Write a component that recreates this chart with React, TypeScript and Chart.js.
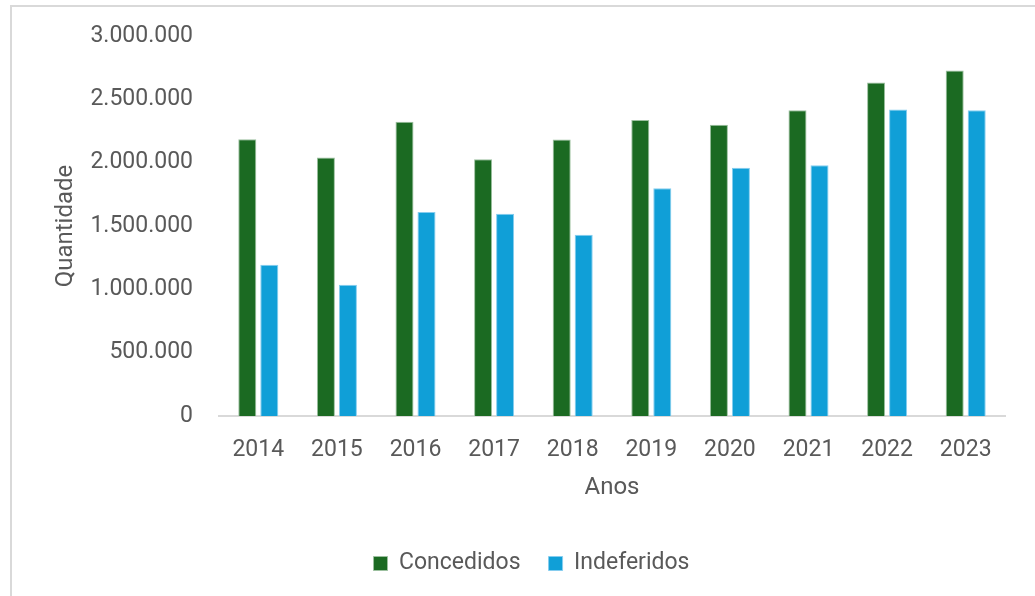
import React, { useEffect, useRef } from "react";
import { Chart, registerables } from "chart.js";

Chart.register(...registerables);

const categories = ["2014", "2015", "2016", "2017", "2018", "2019", "2020", "2021", "2022", "2023"];
const concedidos = [2184000, 2040000, 2324000, 2026000, 2182000, 2337000, 2300000, 2413000, 2632000, 2727000];
const indeferidos = [1194000, 1036000, 1610000, 1597000, 1431000, 1799000, 1960000, 1979000, 2419000, 2413000];
const seriesNames = ["Concedidos", "Indeferidos"];
const xTitle = "Anos";
const yTitle = "Quantidade";

const TEXT = "#595959";
const FONT = "Roboto, 'Noto Sans', sans-serif";

function fmt(v: number): string {
  return String(Math.round(v)).replace(/\B(?=(\d{3})+(?!\d))/g, ".");
}

export default function App() {
  const ref = useRef<HTMLCanvasElement | null>(null);

  useEffect(() => {
    document.body.style.overflow = "hidden";
    const ctx = ref.current!;
    const chart = new Chart(ctx, {
      type: "bar",
      data: {
        labels: categories,
        datasets: [
          {
            label: seriesNames[0],
            data: concedidos,
            backgroundColor: "#1b6a22",
            borderColor: "#9cc09f",
            borderWidth: 1,
            barPercentage: 0.82,
            categoryPercentage: 0.56,
          },
          {
            label: seriesNames[1],
            data: indeferidos,
            backgroundColor: "#109fd7",
            borderColor: "#86cdef",
            borderWidth: 1,
            barPercentage: 0.82,
            categoryPercentage: 0.56,
          },
        ],
      },
      options: {
        responsive: false,
        animation: false,
        layout: { padding: { left: 58, right: 30, top: 36, bottom: 11 } },
        plugins: {
          tooltip: { enabled: false },
          legend: {
            position: "bottom",
            labels: {
              color: TEXT,
              font: { family: FONT, size: 23 },
              boxWidth: 14,
              boxHeight: 14,
              padding: 28,
            },
          },
        },
        scales: {
          x: {
            grid: { display: false, drawTicks: false },
            border: { display: true, color: "#d9d9d9", width: 2 },
            ticks: { color: TEXT, font: { family: FONT, size: 23 }, padding: 20 },
            title: {
              display: true,
              text: xTitle,
              color: TEXT,
              font: { family: FONT, size: 24 },
              padding: { top: 10, bottom: 22 },
            },
            afterFit: (s: any) => {
              s.height = 108;
            },
          },
          y: {
            min: 0,
            max: 3000000,
            grid: { display: false, drawTicks: false },
            border: { display: false },
            ticks: {
              stepSize: 500000,
              color: TEXT,
              font: { family: FONT, size: 23 },
              padding: 26,
              callback: (v: any) => fmt(Number(v)),
            },
            title: {
              display: true,
              text: yTitle,
              color: TEXT,
              font: { family: FONT, size: 24 },
              padding: { top: -6, bottom: 0 },
            },
            afterFit: (s: any) => {
              s.width = 161;
              s.paddingTop = 10;
              s.paddingBottom = 10;
            },
          },
        },
      },
    });
    return () => chart.destroy();
  }, []);

  return (
    <div style={{ position: "fixed", left: 0, top: 0, width: 1035, height: 596, overflow: "hidden", background: "#fff" }}>
      <div
        style={{
          position: "absolute",
          left: 10,
          top: 5,
          width: 1100,
          height: 700,
          border: "2px solid #d9d9d9",
          boxSizing: "border-box",
        }}
      />
      <canvas ref={ref} width={1035} height={596} style={{ position: "absolute", left: 0, top: 0 }} />
    </div>
  );
}
